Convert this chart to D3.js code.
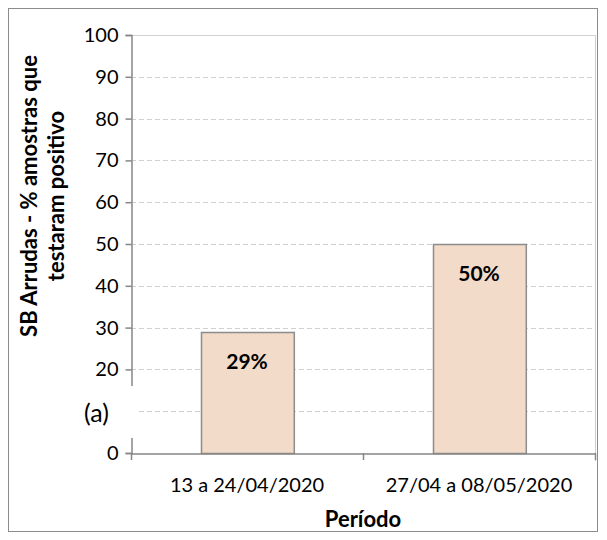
<!DOCTYPE html>
<html><head><meta charset="utf-8">
<script src="https://cdn.jsdelivr.net/npm/d3@7"></script>
<style>body{margin:0;background:#fff}svg{display:block}text{font-family:Lato,"Open Sans",sans-serif}</style>
</head><body>
<svg id="c" width="607" height="540"></svg>
<script>
const categories = ["13 a 24/04/2020", "27/04 a 08/05/2020"];
const values = [29, 50];
const valueLabels = ["29%", "50%"];
const yTicks = [0, 10, 20, 30, 40, 50, 60, 70, 80, 90, 100];
const hiddenTick = 10; // covered by the "(a)" label box in the original
const yTitle = ["SB Arrudas - % amostras que", "testaram positivo"];
const xTitle = "Período";
const panelLabel = "(a)";

const svg = d3.select("#c");
const L = 131, R = 595, T = 35, B = 453;
svg.append("rect").attr("x", 8.5).attr("y", 8.5).attr("width", 589).attr("height", 523)
  .attr("fill", "#fff").attr("stroke", "#8c8c8c").attr("stroke-width", 1);

const x = d3.scaleBand().domain(categories).range([L, R]).paddingInner(0).paddingOuter(0);
const y = d3.scaleLinear().domain([0, 100]).range([B, T]);

// gridlines
svg.append("g").selectAll("line").data(yTicks.filter(d => d > 0 && d < 100)).join("line")
  .attr("x1", L).attr("x2", R).attr("y1", d => Math.round(y(d)) + 0.5).attr("y2", d => Math.round(y(d)) + 0.5)
  .attr("stroke", "#d0d0d0").attr("stroke-dasharray", "5,3");
// plot border (top/right)
svg.append("path").attr("d", `M${L},${T + 0.5}H${R + 0.5}V${B + 8}`).attr("fill", "none").attr("stroke", "#d0d0d0");

// bars
const bw = x.bandwidth() * 0.4;
svg.append("g").selectAll("rect").data(values).join("rect")
  .attr("x", (d, i) => Math.round(x(categories[i]) + x.bandwidth() / 2 - bw / 2) + 0.5)
  .attr("y", d => Math.round(y(d)) + 0.5)
  .attr("width", bw).attr("height", d => Math.round(y(0)) - Math.round(y(d)))
  .attr("fill", "#f2dbc9").attr("stroke", "#8c8c8c").attr("stroke-width", 1.5);
svg.append("g").selectAll("text").data(values).join("text")
  .attr("x", (d, i) => x(categories[i]) + x.bandwidth() / 2)
  .attr("y", d => y(d) + 37)
  .attr("text-anchor", "middle").attr("font-weight", "bold").attr("font-size", 21)
  .text((d, i) => valueLabels[i]);

// y axis
const ya = svg.append("g").attr("transform", `translate(${L + 0.5},0)`)
  .call(d3.axisLeft(y).tickValues(yTicks.filter(d => d !== hiddenTick)).tickSize(6).tickPadding(7).tickFormat(d3.format("d")));
ya.select(".domain").attr("stroke", "#868686").attr("stroke-width", 1.5);
ya.selectAll(".tick line").attr("stroke", "#868686").attr("stroke-width", 1.5);
ya.selectAll(".tick text").attr("font-size", 20).attr("fill", "#000").style("font-family", "Lato");

// x axis
const xa = svg.append("g").attr("transform", `translate(0,${B + 0.5})`)
  .call(d3.axisBottom(x).tickSize(0).tickPadding(24));
xa.select(".domain").attr("stroke", "#868686").attr("stroke-width", 1.5);
xa.selectAll(".tick text").attr("font-size", 20).attr("fill", "#000").style("font-family", "Lato");
// tick marks between categories
svg.append("g").selectAll("line").data([L, (L + R) / 2, R]).join("line")
  .attr("x1", d => d + 0.5).attr("x2", d => d + 0.5).attr("y1", B).attr("y2", B + 7)
  .attr("stroke", "#868686").attr("stroke-width", 1.5);

// panel label with white box
svg.append("rect").attr("x", 78).attr("y", 386).attr("width", 58).attr("height", 52).attr("fill", "#fff");
svg.append("text").attr("x", 96.5).attr("y", 422).attr("text-anchor", "middle").attr("font-size", 25).text(panelLabel);

// titles
const yt = svg.append("text").attr("transform", "translate(0,196) rotate(-90)")
  .attr("text-anchor", "middle").attr("font-weight", "bold").attr("font-size", 22);
yt.append("tspan").attr("x", 0).attr("y", 37).text(yTitle[0]);
yt.append("tspan").attr("x", 0).attr("y", 64).text(yTitle[1]);
svg.append("text").attr("x", (L + R) / 2).attr("y", 527).attr("text-anchor", "middle")
  .attr("font-weight", "bold").attr("font-size", 22).text(xTitle);
</script>
</body></html>
